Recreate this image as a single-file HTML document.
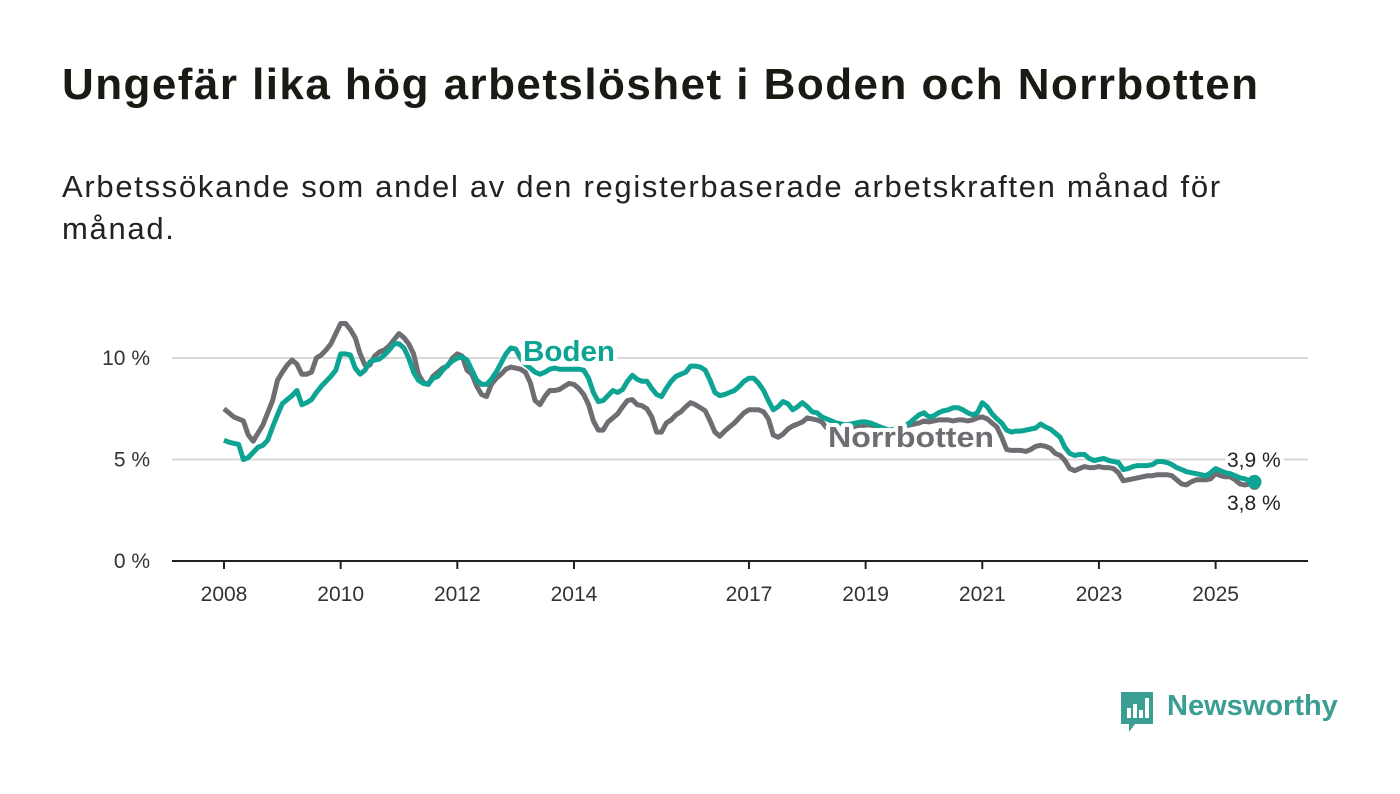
<!DOCTYPE html>
<html><head><meta charset="utf-8"><style>
body{margin:0;background:#fff;font-family:"Liberation Sans","DejaVu Sans",sans-serif;}
#wrap{position:relative;width:1400px;height:794px;overflow:hidden;}
h1{position:absolute;left:62px;top:60px;margin:0;font-size:44px;font-weight:bold;color:#1a1a14;letter-spacing:1.45px;white-space:nowrap}
p.sub{position:absolute;left:62px;top:166px;margin:0;font-size:31px;line-height:42px;color:#222;width:1300px;letter-spacing:1.7px}
</style></head><body>
<div id="wrap">
<h1>Ungefär lika hög arbetslöshet i Boden och Norrbotten</h1>
<p class="sub">Arbetssökande som andel av den registerbaserade arbetskraften månad för<br>månad.</p>
<svg id="chart" width="1400" height="794" style="position:absolute;left:0;top:0"></svg>
<div style="position:absolute;left:1119px;top:690px;">
<svg width="36" height="46"><path d="M2 2h32v32H16l-6 8v-8H2z" fill="#3a9e94"/><rect x="8" y="18" width="4" height="10" fill="#fff"/><rect x="14" y="14" width="4" height="14" fill="#fff"/><rect x="20" y="20" width="4" height="8" fill="#fff"/><rect x="26" y="8" width="4" height="20" fill="#fff"/></svg>
<span style="position:absolute;left:48px;top:0px;font-size:29px;font-weight:bold;color:#3a9e94;white-space:nowrap">Newsworthy</span>
</div>
</div>
<script>
const yearTicks=[2008,2010,2012,2014,2017,2019,2021,2023,2025];
const yTicks=[0,5,10];
const startYear=2008;
const norrbotten=[
7.5,7.3,7.1,7.0,6.9,6.2,5.9,6.3,6.7,7.3,7.9,8.9,
9.3,9.65,9.9,9.7,9.2,9.2,9.3,10.0,10.15,10.4,10.7,11.2,
11.7,11.7,11.4,11.0,10.2,9.65,9.65,10.1,10.3,10.4,10.6,10.9,
11.2,11.0,10.7,10.2,9.2,8.8,8.7,9.1,9.3,9.5,9.6,10.0,
10.2,10.1,9.4,9.2,8.6,8.2,8.1,8.7,9.0,9.2,9.45,9.55,
9.5,9.45,9.3,8.8,7.9,7.7,8.1,8.4,8.4,8.45,8.6,8.75,
8.7,8.5,8.2,7.7,6.9,6.45,6.45,6.85,7.05,7.25,7.6,7.9,
7.95,7.7,7.65,7.5,7.1,6.35,6.35,6.8,6.95,7.2,7.35,7.6,
7.8,7.7,7.55,7.4,6.9,6.35,6.15,6.4,6.6,6.8,7.05,7.3,
7.45,7.45,7.45,7.35,7.0,6.2,6.1,6.25,6.5,6.65,6.75,6.85,
7.05,7.0,6.95,6.85,6.55,6.4,6.45,6.5,6.55,6.6,6.6,6.65,
6.7,6.7,6.65,6.6,6.5,6.4,6.45,6.5,6.6,6.7,6.75,6.8,
6.9,6.85,6.9,6.95,6.95,6.95,6.9,6.95,6.95,6.9,6.95,7.05,
7.1,7.0,6.8,6.6,6.1,5.5,5.45,5.45,5.45,5.4,5.5,5.65,
5.7,5.65,5.55,5.3,5.2,4.95,4.55,4.45,4.55,4.65,4.6,4.6,
4.65,4.6,4.6,4.55,4.35,3.95,4.0,4.05,4.1,4.15,4.2,4.2,
4.25,4.25,4.25,4.2,4.0,3.8,3.75,3.9,4.0,4.0,4.0,4.05,
4.3,4.2,4.15,4.15,4.0,3.8,3.75,3.8,3.8];
const boden=[
5.95,5.85,5.8,5.75,5.0,5.1,5.35,5.6,5.7,5.95,6.6,7.2,
7.75,7.95,8.15,8.4,7.7,7.8,7.95,8.3,8.6,8.85,9.1,9.4,
10.2,10.2,10.15,9.5,9.2,9.4,9.8,9.9,9.95,10.15,10.4,10.7,
10.7,10.5,10.0,9.3,8.9,8.75,8.7,9.0,9.1,9.4,9.65,9.85,
10.0,10.05,9.9,9.4,8.9,8.7,8.7,8.95,9.3,9.75,10.2,10.5,
10.45,10.0,9.7,9.5,9.3,9.2,9.3,9.45,9.5,9.45,9.45,9.45,
9.45,9.45,9.4,9.0,8.3,7.85,7.9,8.15,8.4,8.3,8.45,8.85,
9.15,8.95,8.85,8.85,8.5,8.2,8.1,8.5,8.85,9.1,9.2,9.3,
9.6,9.6,9.55,9.4,8.9,8.3,8.15,8.2,8.3,8.4,8.6,8.85,
9.0,9.0,8.75,8.4,7.9,7.45,7.6,7.85,7.75,7.45,7.6,7.8,
7.6,7.35,7.3,7.1,7.0,6.9,6.8,6.75,6.7,6.75,6.8,6.85,
6.85,6.8,6.7,6.6,6.5,6.45,6.5,6.55,6.65,6.8,7.0,7.2,
7.3,7.1,7.15,7.3,7.4,7.45,7.55,7.55,7.45,7.3,7.2,7.3,
7.8,7.6,7.25,7.0,6.8,6.45,6.35,6.4,6.4,6.45,6.5,6.55,
6.75,6.6,6.5,6.3,6.1,5.6,5.3,5.2,5.25,5.25,5.05,4.95,
5.0,5.05,4.95,4.9,4.85,4.5,4.55,4.65,4.7,4.7,4.7,4.75,
4.9,4.9,4.85,4.75,4.6,4.5,4.4,4.35,4.3,4.25,4.2,4.35,
4.55,4.45,4.35,4.3,4.2,4.1,4.05,3.95,3.9];

const NS='http://www.w3.org/2000/svg';
const svg=document.getElementById('chart');
const X0=224, PXY=58.33, Y0=561, PXV=20.3, XL=172, XR=1308;
function xOf(t){return X0+(t-startYear)*PXY;}
function xIdx(i){return xOf(startYear+i/12);}
function yOf(v){return Y0-v*PXV;}
function mk(tag,attrs,txt){const e=document.createElementNS(NS,tag);for(const k in attrs)e.setAttribute(k,attrs[k]);if(txt!==undefined)e.textContent=txt;svg.appendChild(e);return e;}
function fmt(v){return String(v).replace('.',',')+' %';}

yTicks.forEach(v=>{
  if(v>0){const g=mk('line',{x1:XL,x2:XR,y1:yOf(v),y2:yOf(v),stroke:'#d9d9d9','stroke-width':2});
  
  }
  const t=mk('text',{x:150,y:yOf(v)+7,'text-anchor':'end','font-size':21,fill:'#333'},v+' %');
  
  
});
const ax=mk('line',{x1:XL,x2:XR,y1:Y0,y2:Y0,stroke:'#222','stroke-width':2});


yearTicks.forEach(yr=>{
  const tk=mk('line',{x1:xOf(yr),x2:xOf(yr),y1:Y0,y2:Y0+8,stroke:'#222','stroke-width':2});
  
  
  const t=mk('text',{x:xOf(yr),y:601,'text-anchor':'middle','font-size':21,fill:'#333'},yr);
  
  
});
function path(arr){return arr.map((v,i)=>(i?'L':'M')+xIdx(i).toFixed(1)+' '+yOf(v).toFixed(1)).join(' ');}
const ln=mk('path',{d:path(norrbotten),fill:'none',stroke:'#6e6d72','stroke-width':5,'stroke-linejoin':'round'});


const lb=mk('path',{d:path(boden),fill:'none',stroke:'#0da493','stroke-width':5,'stroke-linejoin':'round'});


const nL=norrbotten.length-1, bL=boden.length-1;
const dn=mk('circle',{cx:xIdx(nL),cy:yOf(norrbotten[nL]),r:6,fill:'#6e6d72'});


const db=mk('circle',{cx:xIdx(bL),cy:yOf(boden[bL]),r:7,fill:'#0da493'});


const halo={stroke:'#fff','stroke-width':8,'paint-order':'stroke','stroke-linejoin':'round'};
const t1=mk('text',Object.assign({x:523,y:361,'font-size':29,'font-weight':'bold',fill:'#0da493',textLength:92,lengthAdjust:'spacingAndGlyphs'},halo),'Boden');


const t2=mk('text',Object.assign({x:828,y:447,'font-size':29,'font-weight':'bold',fill:'#6e6d72',textLength:166,lengthAdjust:'spacingAndGlyphs'},halo),'Norrbotten');


const v1=mk('text',Object.assign({x:1227,y:467,'font-size':21,fill:'#222'},halo),fmt(boden[bL]));


const v2=mk('text',Object.assign({x:1227,y:510,'font-size':21,fill:'#222'},halo),fmt(norrbotten[nL]));


</script>
</body></html>
